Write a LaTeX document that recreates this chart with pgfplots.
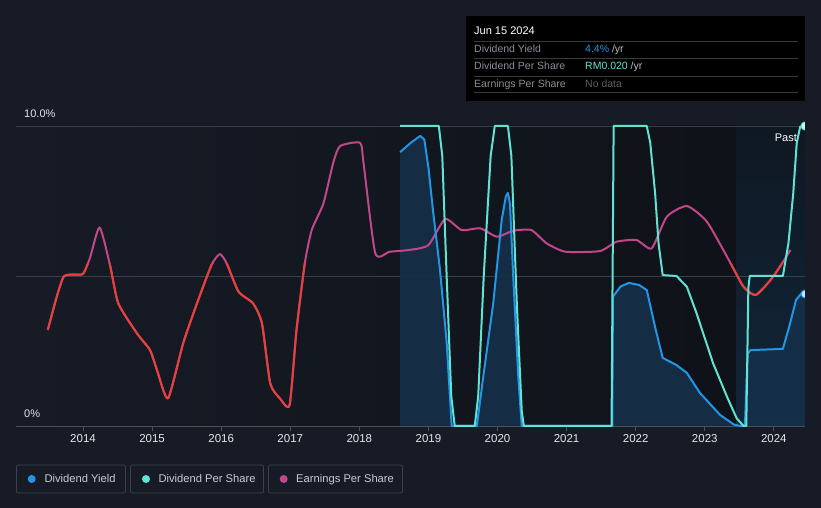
\documentclass[border=0pt]{standalone}
\usepackage{fontspec}
\setmainfont{Liberation Sans}
\usepackage{pgfplots}
\usepackage{pgfplotstable}
\pgfplotsset{compat=1.18}

\definecolor{bg}{HTML}{161B26}
\definecolor{plotdark}{HTML}{0F1218}
\definecolor{pasttop}{HTML}{0E1822}
\definecolor{pastbot}{HTML}{12263A}
\definecolor{gridcol}{HTML}{3A3F49}
\definecolor{axiscol}{HTML}{4A4F59}
\definecolor{ticktext}{HTML}{E4E6EA}
\definecolor{dycol}{HTML}{2296E6}
\definecolor{dpscol}{HTML}{62E2D2}
\definecolor{epscol}{HTML}{C2468A}
\definecolor{epsred}{HTML}{E8403A}
\definecolor{dyfill}{HTML}{15304A}
\definecolor{legborder}{HTML}{3B404A}
\definecolor{legtext}{HTML}{C8CCD2}
\definecolor{tipsep}{HTML}{3A3A3A}
\definecolor{tiplabel}{HTML}{8A8F96}
\definecolor{tipunit}{HTML}{B8BCC2}
\definecolor{tipnodata}{HTML}{5A5F66}

% dividend yield, % per year
\pgfplotstableread{
x y
2018.59 9.13
2018.75 9.45
2018.88 9.67
2018.94 9.55
2019.00 8.60
2019.065 7.20
2019.167 5.20
2019.263 2.80
2019.336 0.00
2019.70 0.00
2019.793 1.64
2019.938 4.10
2020.06 6.87
2020.12 7.65
2020.15 7.77
2020.18 7.40
2020.227 4.98
2020.30 1.64
2020.35 0.00
2021.66 0.00
2021.67 4.31
2021.78 4.65
2021.90 4.77
2022.05 4.70
2022.16 4.53
2022.28 3.30
2022.39 2.27
2022.59 2.03
2022.74 1.77
2022.93 1.10
2023.22 0.37
2023.42 0.05
2023.51 0.00
2023.58 0.00
2023.62 2.40
2023.66 2.53
2024.13 2.57
2024.22 3.30
2024.32 4.20
2024.40 4.43
2024.45 4.40
}\dydata

% dividend per share (scaled to the same axis)
\pgfplotstableread{
x y
2018.59 10.0
2019.15 10.0
2019.20 9.0
2019.263 5.0
2019.33 1.0
2019.38 0.0
2019.67 0.0
2019.72 1.0
2019.80 5.0
2019.90 9.0
2019.96 10.0
2020.15 10.0
2020.20 9.0
2020.28 4.0
2020.35 0.5
2020.38 0.0
2021.65 0.0
2021.68 10.0
2022.16 10.0
2022.21 9.44
2022.28 7.77
2022.33 6.09
2022.39 5.03
2022.59 5.0
2022.74 4.64
2022.88 3.76
2023.12 2.09
2023.32 0.98
2023.46 0.26
2023.56 0.0
2023.60 0.0
2023.63 4.6
2023.65 5.0
2024.13 5.0
2024.21 6.09
2024.28 7.76
2024.33 9.43
2024.38 9.98
2024.45 10.0
}\dpsdata

% earnings per share (scaled to the same axis)
\pgfplotstableread{
x y
2013.49 3.20
2013.62 4.31
2013.72 4.98
2013.85 5.05
2014.00 5.07
2014.10 5.60
2014.24 6.62
2014.39 5.37
2014.51 4.09
2014.78 3.09
2014.97 2.53
2015.07 1.87
2015.23 0.92
2015.45 2.76
2015.65 4.09
2015.86 5.37
2015.98 5.73
2016.08 5.42
2016.25 4.48
2016.46 4.09
2016.59 3.42
2016.71 1.42
2016.85 0.92
2016.99 0.70
2017.09 3.20
2017.21 5.42
2017.31 6.53
2017.48 7.42
2017.62 8.76
2017.72 9.33
2018.01 9.44
2018.06 8.77
2018.23 5.76
2018.44 5.81
2018.73 5.87
2019.00 6.03
2019.24 6.90
2019.48 6.53
2019.75 6.59
2019.99 6.31
2020.23 6.51
2020.49 6.53
2020.71 6.09
2020.98 5.81
2021.48 5.83
2021.72 6.14
2022.01 6.20
2022.23 5.92
2022.45 6.98
2022.74 7.33
2023.03 6.81
2023.36 5.48
2023.56 4.64
2023.74 4.37
2023.99 4.98
2024.24 5.87
}\epsdata

\begin{document}
\begin{tikzpicture}[x=1pt,y=1pt]
% page and plot backgrounds
\fill[bg] (0,0) rectangle (821,508);
\shade[left color=bg, right color=plotdark] (16,82) rectangle (736,382);
\shade[top color=pasttop, bottom color=pastbot] (736,82) rectangle (805,382);

\begin{axis}[
    at={(16pt,82pt)}, anchor=south west,
    scale only axis, width=789pt, height=300pt,
    xmin=2013.03, xmax=2024.45, ymin=0, ymax=10,
    clip=false,
    axis x line=bottom, axis y line=left,
    x axis line style={draw=axiscol, line width=0.8pt, -},
    y axis line style={draw=none},
    xtick={2014,...,2024},
    ytick={0,5,10}, yticklabels={0\%,,10.0\%},
    ymajorgrids, grid style={draw=gridcol, line width=0.8pt},
    xtick style={draw=axiscol, line width=0.8pt},
    ytick style={draw=none},
    major tick length=5pt, tick align=outside,
    /pgf/number format/1000 sep={},
    /pgf/number format/assume math mode=true,
    xticklabel style={font=\fontsize{11.5}{13}\selectfont, text=ticktext},
    yticklabel style={font=\fontsize{11}{13}\selectfont, text=ticktext,
        anchor=base west, inner sep=0pt, xshift=13pt, yshift=8pt},
]
% area under the dividend yield
\addplot[draw=none, fill=dyfill, fill opacity=0.9] table {\dydata} \closedcycle;

% earnings per share: magenta, red below the threshold
\addplot[epscol, line width=2pt, smooth, tension=0.35, line join=round] table {\epsdata};
\begin{scope}
\clip (axis cs:2013.03,-1) rectangle (axis cs:2024.45,5.42);
\addplot[epsred, line width=2pt, smooth, tension=0.35, line join=round] table {\epsdata};
\end{scope}

\addplot[dycol, line width=2pt, line join=round] table {\dydata};
\addplot[dpscol, line width=2pt, line join=round] table {\dpsdata};

% end markers
\addplot[only marks, mark=*, mark size=4pt, mark options={fill=white!75!dycol, draw=dycol, line width=1pt}] coordinates {(2024.45,4.4)};
\addplot[only marks, mark=*, mark size=4pt, mark options={fill=white!70!dpscol, draw=dpscol, line width=1pt}] coordinates {(2024.45,10)};
\end{axis}

% right edge (plot is cut at its border)
\fill[bg] (805.4,60) rectangle (821,400);

\node[anchor=base east, inner sep=0pt, text=white, font=\fontsize{11}{13}\selectfont] at (797,366.3) {Past};

% tooltip
\fill[black] (466,407) rectangle (805,492);
\node[anchor=base west, inner sep=0pt, text=white, font=\fontsize{11}{13}\selectfont] at (474,473) {Jun 15 2024};
\foreach \yy in {467,449.7,432,415.3} \draw[tipsep, line width=0.8pt] (474,\yy) -- (798,\yy);
\begin{scope}[every node/.style={anchor=base west, inner sep=0pt, font=\fontsize{10.5}{12}\selectfont}]
\node[text=tiplabel] at (474,455.3) {Dividend Yield};
\node[text=tiplabel] at (474,438) {Dividend Per Share};
\node[text=tiplabel] at (474,420.3) {Earnings Per Share};
\node at (585,455.3) {\textcolor{dycol}{4.4\%} \textcolor{tipunit}{/yr}};
\node at (585,438) {\textcolor{dpscol}{RM0.020} \textcolor{tipunit}{/yr}};
\node[text=tipnodata] at (585,420.3) {No data};
\end{scope}

% legend
\begin{scope}[every node/.style={anchor=base west, inner sep=0pt, text=legtext, font=\fontsize{11.2}{13}\selectfont}]
\draw[legborder, line width=0.8pt, rounded corners=2pt] (16.5,15) rectangle (125.5,43);
\fill[dycol] (31.7,29) circle (4);
\node at (44.3,25.3) {Dividend Yield};
\draw[legborder, line width=0.8pt, rounded corners=2pt] (130.5,15) rectangle (263.5,43);
\fill[dpscol] (146,29) circle (4);
\node at (158.3,25.3) {Dividend Per Share};
\draw[legborder, line width=0.8pt, rounded corners=2pt] (268.5,15) rectangle (402.5,43);
\fill[epscol] (283.7,29) circle (4);
\node at (296,25.3) {Earnings Per Share};
\end{scope}
\end{tikzpicture}
\end{document}
